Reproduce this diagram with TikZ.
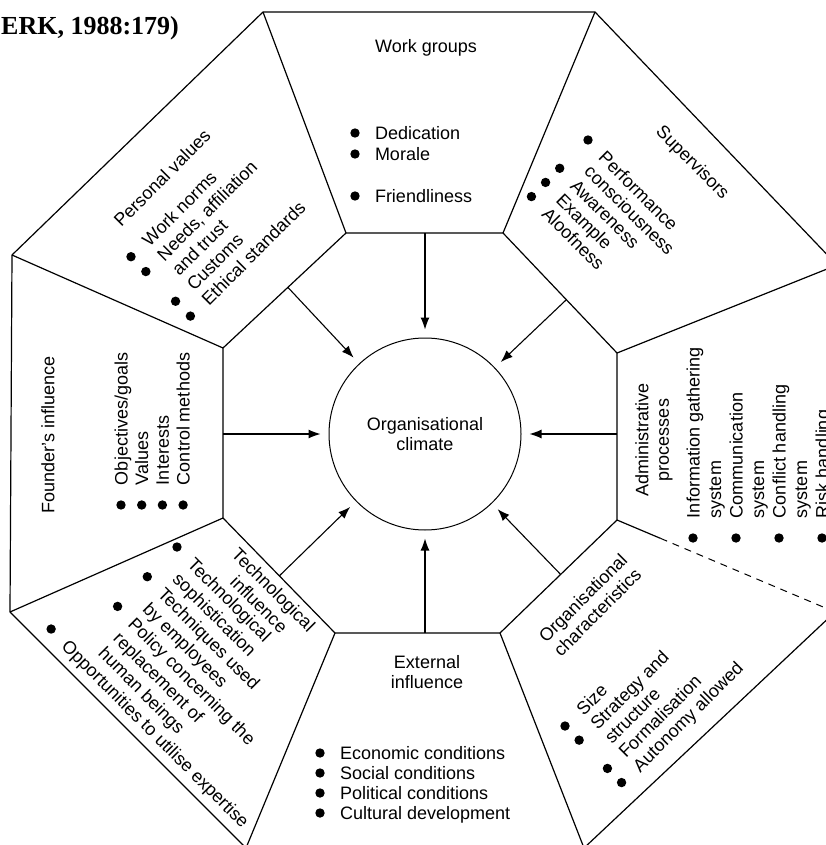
\documentclass[tikz,border=0pt]{standalone}
\usepackage{fontspec}
\setmainfont{Liberation Sans}
\newfontfamily\titlefont{Liberation Serif}
\usetikzlibrary{calc,arrows.meta}

% text size used for every label
\newcommand\lblfont{\fontsize{18}{20.5}\selectfont}
% filled list bullet, centred on the left edge of a 20pt wide box
\newcommand\bul{\makebox[20pt][l]{\tikz[baseline=0pt]{\useasboundingbox (0pt,0pt) rectangle (0pt,0pt); \fill (0pt,6.5pt) circle[radius=4.7pt];}}}
% indent for a continued line without bullet
\newcommand\nob{\hspace*{20pt}}
% list block: #1 = line spacing, #2 = rows
\newcommand\lst[2]{{\fontsize{18}{#1}\selectfont\begin{tabular}[t]{@{}l@{}}#2\end{tabular}}}

\begin{document}
\begin{tikzpicture}[x=1pt,y=-1pt,
  edge/.style={line width=1.2pt, line join=round},
  arr/.style={line width=1.1pt, -{Latex[length=12pt,width=9pt]}, shorten >=8pt},
  lbl/.style={inner sep=0pt, outer sep=0pt, font=\lblfont},
  hd/.style={lbl, align=center}]
\clip (0,0) rectangle (826,845);

% inner octagon corners
\coordinate (iTL) at (346,233);
\coordinate (iTR) at (503,233);
\coordinate (iRU) at (617,353);
\coordinate (iRL) at (617,520);
\coordinate (iBR) at (500,633);
\coordinate (iBL) at (335,633);
\coordinate (iLL) at (223,518);
\coordinate (iLU) at (223,348);
% outer octagon corners
\coordinate (oTL) at (263,12);
\coordinate (oTR) at (595,12);
\coordinate (oRU) at (837,265);
\coordinate (oRL) at (835,612);
\coordinate (oBR) at (584,848);
\coordinate (oBL) at (246,848);
\coordinate (oLL) at (10,612);
\coordinate (oLU) at (12,255);

% frame of the eight sectors
\draw[edge] (iTL)--(iTR)--(iRU)--(iRL)--(iBR)--(iBL)--(iLL)--(iLU)--cycle;
\draw[edge] (oTL)--(oTR)--(oRU)--(oRL)--(oBR)--(oBL)--(oLL)--(oLU)--cycle;
\draw[edge] (iTL)--(oTL);
\draw[edge] (iTR)--(oTR);
\draw[edge] (iRU)--(oRU);
\coordinate (dashstart) at ($(iRL)!0.2!(oRL)$);
\draw[edge] (iRL)--(dashstart);
\draw[line width=1pt, dash pattern=on 7pt off 6pt] (dashstart)--(oRL);
\draw[edge] (iBR)--(oBR);
\draw[edge] (iBL)--(oBL);
\draw[edge] (iLL)--(oLL);
\draw[edge] (iLU)--(oLU);

% centre
\node[circle, draw, line width=1pt, minimum size=192pt, inner sep=0pt, align=center, font=\lblfont]
  (clim) at (425,434) {Organisational\\climate};

% arrow feet on the inner octagon
\coordinate (aT)  at ($(iTL)!(clim.center)!(iTR)$);
\coordinate (aTR) at ($(iTR)!(clim.center)!(iRU)$);
\coordinate (aR)  at ($(iRU)!(clim.center)!(iRL)$);
\coordinate (aBR) at ($(iRL)!(clim.center)!(iBR)$);
\coordinate (aB)  at ($(iBR)!(clim.center)!(iBL)$);
\coordinate (aBL) at ($(iBL)!(clim.center)!(iLL)$);
\coordinate (aL)  at ($(iLL)!(clim.center)!(iLU)$);
\coordinate (aTL) at ($(iLU)!(clim.center)!(iTL)$);
\foreach \a in {aT,aTR,aR,aBR,aB,aBL,aL,aTL}
  \draw[arr] (\a) -- (clim);

% source line
\node[anchor=base west, inner sep=0pt, font=\titlefont\bfseries\fontsize{26}{30}\selectfont]
  (src) at (1,35) {ERK, 1988:179)};

% Work groups
\node[lbl, anchor=base] (wgH) at (426,53) {Work groups};
\node[lbl, anchor=base west] (wgL) at (355,139.5)
  {\lst{21}{\bul Dedication\\ \bul Morale\\ \\ \bul Friendliness}};

% Supervisors
\node[hd, rotate=-45] (svH) at (692,163) {Supervisors};
\node[lbl, rotate=-45, anchor=base west] (svL) at (583.4,144.6)
  {\lst{20}{\bul Performance\\ \nob consciousness\\ \bul Awareness\\ \bul Example\\ \bul Aloofness}};

% Administrative processes
\node[hd, rotate=90] (apH) at (654,440) {Administrative\\processes};
\node[lbl, rotate=90, anchor=base west] (apL) at (699.5,538)
  {\lst{21.5}{\bul Information gathering\\ \nob system\\ \bul Communication\\ \nob system\\ \bul Conflict handling\\ \nob system\\ \bul Risk handling}};

% Organisational characteristics
\node[hd, rotate=45] (ocH) at (590,605) {Organisational\\characteristics};
\node[lbl, rotate=45, anchor=base west] (ocL) at (569.6,730.6)
  {\lst{20}{\bul Size\\ \bul Strategy and\\ \nob structure\\ \bul Formalisation\\ \bul Autonomy allowed}};

% External influence
\node[hd] (exH) at (427,672) {External\\influence};
\node[lbl, anchor=base west] (exL) at (320,759.5)
  {\lst{20}{\bul Economic conditions\\ \bul Social conditions\\ \bul Political conditions\\ \bul Cultural development}};

% Technological influence
\node[hd, rotate=-45] (tiH) at (266.5,597) {Technological\\influence};
\node[lbl, rotate=-45, anchor=base west] (tiL) at (172.4,551.6)
  {\lst{21}{\bul Technological\\ \nob sophistication\\ \bul Techniques used\\ \nob by employees\\ \bul Policy concerning the\\ \nob replacement of\\ \nob human beings\\ \hspace*{-31pt}\bul Opportunities to utilise expertise}};

% Founder's influence
\node[hd, rotate=90] (fiH) at (48,435) {Founder's influence};
\node[lbl, rotate=90, anchor=base west] (fiL) at (127.5,505)
  {\lst{20.7}{\bul Objectives/goals\\ \bul Values\\ \bul Interests\\ \bul Control methods}};

% Personal values
\node[hd, rotate=45] (pvH) at (162,178) {Personal values};
\node[lbl, rotate=45, anchor=base west] (pvL) at (135.6,261.3)
  {\lst{21}{\bul Work norms\\ \bul Needs, affiliation\\ \nob and trust\\ \bul Customs\\ \bul Ethical standards}};
\end{tikzpicture}
\end{document}
